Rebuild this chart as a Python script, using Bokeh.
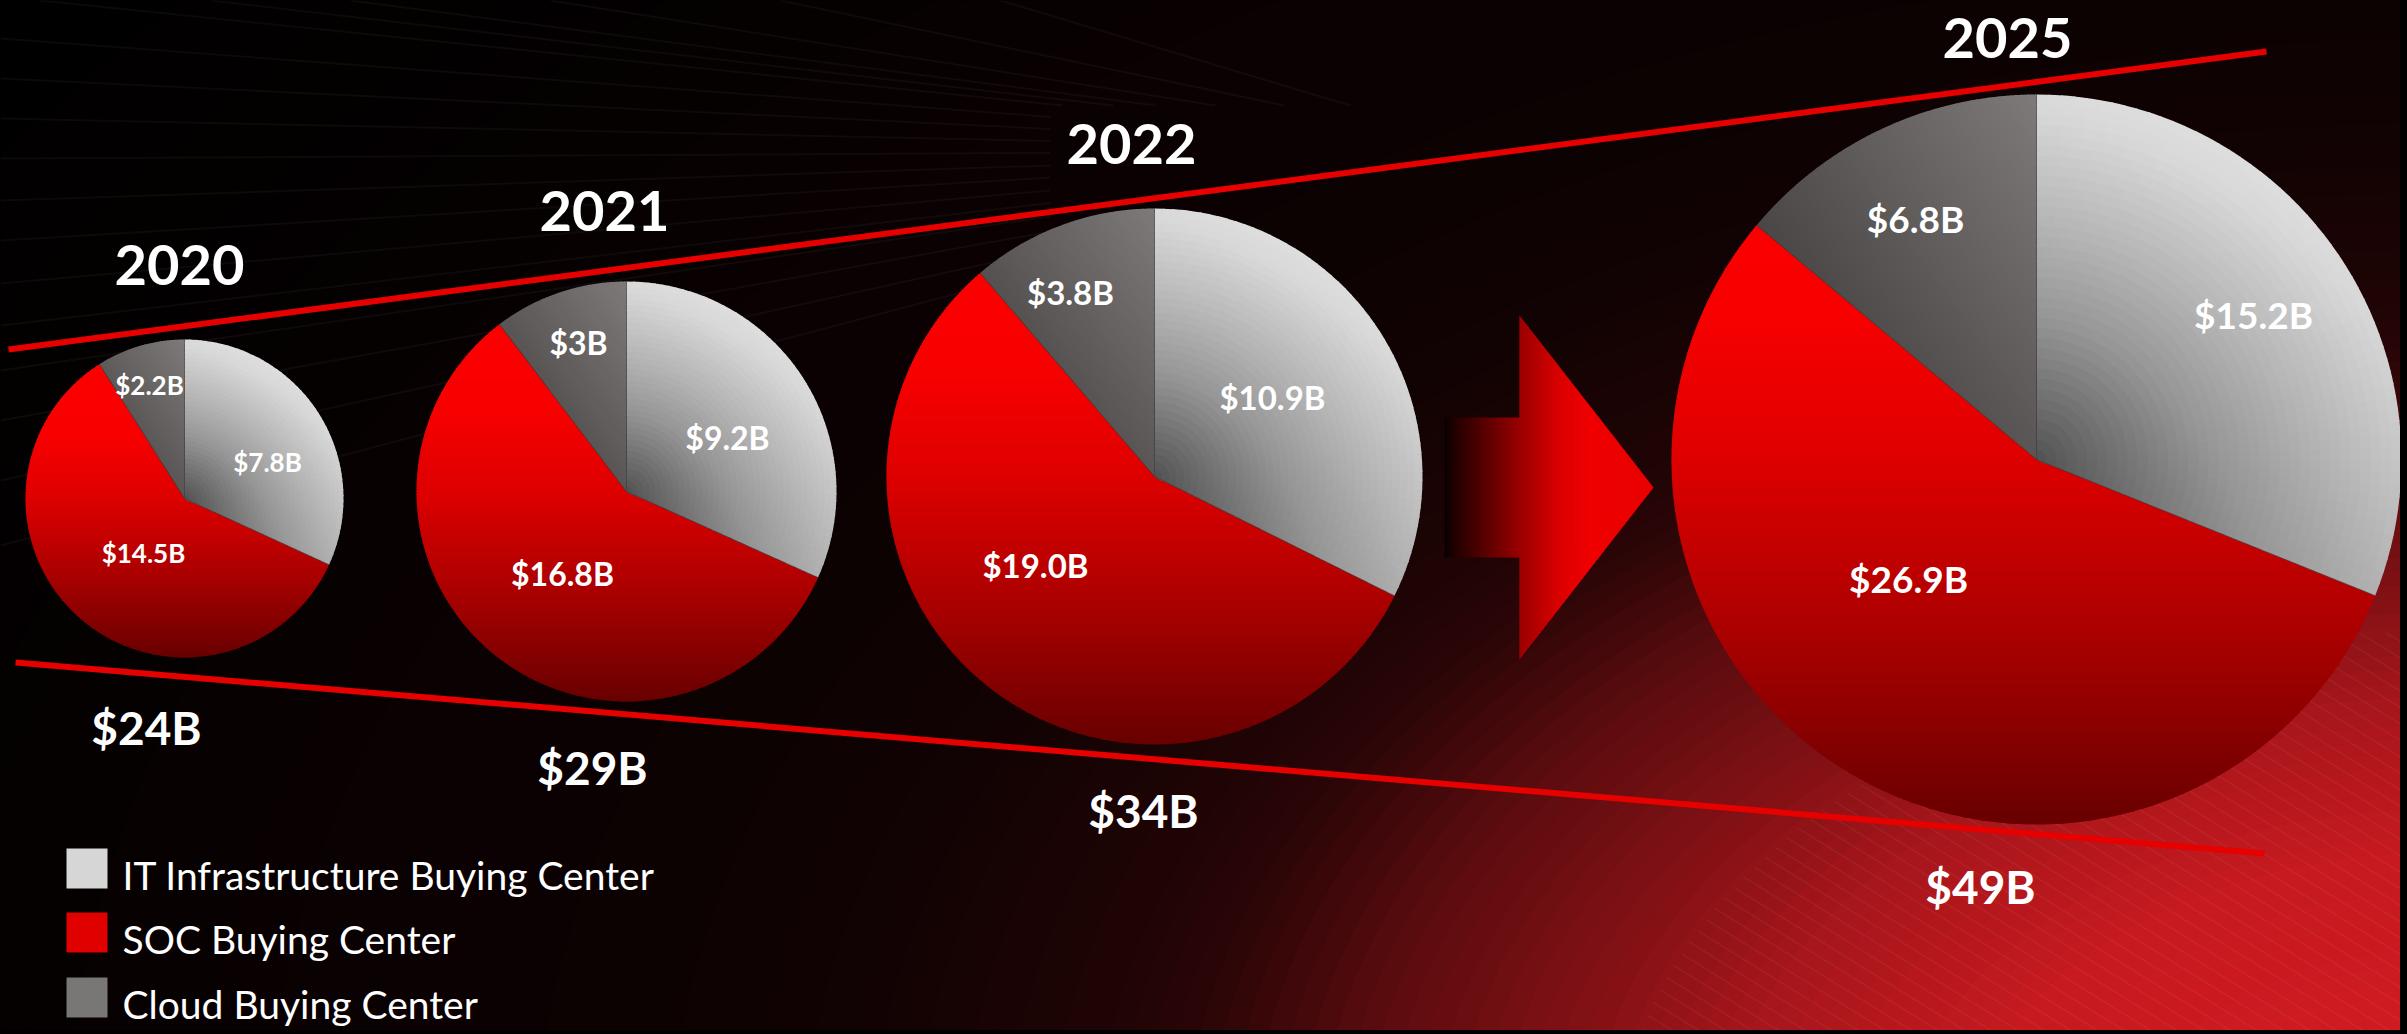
import numpy as np
from bokeh.plotting import figure
from bokeh.models import Range1d, ColumnDataSource
from bokeh.embed import file_html
from bokeh.resources import INLINE
from bokeh.core.properties import value

# ---------------- data ----------------
years = ["2020", "2021", "2022", "2025"]
totals = ["$24B", "$29B", "$34B", "$49B"]
segments = ["IT Infrastructure Buying Center", "SOC Buying Center", "Cloud Buying Center"]
it_infra = [7.8, 9.2, 10.9, 15.2]
soc = [14.5, 16.8, 19.0, 26.9]
cloud = [2.2, 3.0, 3.8, 6.8]
it_labels = ["$7.8B", "$9.2B", "$10.9B", "$15.2B"]
soc_labels = ["$14.5B", "$16.8B", "$19.0B", "$26.9B"]
cloud_labels = ["$2.2B", "$3B", "$3.8B", "$6.8B"]

# ---------------- layout (page pixel coords, y downward) ----------------
H = 1034
W_FIG, H_FIG = 2400, 1030


def fy(y):
    return H - y


pie_cx = [184, 626, 1154, 2036]
pie_cy = [498, 491, 476, 459]
pie_r = [159, 210, 268, 365]
label_size = [26, 32, 33, 37]
it_pos = [(267, 462), (727, 437), (1272, 397), (2253, 314)]
soc_pos = [(143, 553), (562, 573), (1035, 565), (1908, 578)]
cloud_pos = [(149, 385), (578, 342), (1070, 292), (1915, 218)]
year_pos = [(179, 285), (604, 231), (1131, 164), (2007, 58)]      # baselines
total_pos = [(146, 744), (592, 784), (1143, 827), (1980, 903)]    # baselines
FONT = value("Lato")
BASE_SHIFT = 0.37   # renderer puts alphabetic baseline ~0.37em low


def hexc(r, g, b):
    c = [int(round(min(255, max(0, v)))) for v in (r, g, b)]
    return "#%02x%02x%02x" % tuple(c)


def clip_dir(poly, n, lo, hi):
    """Clip polygon to band lo <= n.p <= hi (Sutherland-Hodgman)."""
    def proj(P):
        return n[0] * P[0] + n[1] * P[1]

    def inter(P, Q, val):
        sp, sq = proj(P), proj(Q)
        t = (val - sp) / (sq - sp)
        return (P[0] + t * (Q[0] - P[0]), P[1] + t * (Q[1] - P[1]))

    def half(pts, val, ge):
        out = []
        for i in range(len(pts)):
            P = pts[i - 1]
            Q = pts[i]
            pin = proj(P) >= val if ge else proj(P) <= val
            qin = proj(Q) >= val if ge else proj(Q) <= val
            if qin:
                if not pin:
                    out.append(inter(P, Q, val))
                out.append(Q)
            elif pin:
                out.append(inter(P, Q, val))
        return out

    pts = half(poly, lo, True)
    if len(pts) < 3:
        return []
    pts = half(pts, hi, False)
    return pts if len(pts) >= 3 else []


p = figure(width=W_FIG, height=H_FIG, x_range=Range1d(0, W_FIG), y_range=Range1d(H - H_FIG, H),
           output_backend="svg", toolbar_location=None, min_border=0,
           x_axis_type=None, y_axis_type=None)
p.grid.visible = False
p.outline_line_color = None
p.background_fill_color = "#000000"
p.border_fill_color = "#000000"

# ---------------- background: elliptical red glow bottom-right ----------------
ex, ey, ek = 2450, fy(1150), 1.6
ds = np.arange(1980, 0, -14)
bg_cols = []
for d in ds:
    r = np.interp(d, [0, 300, 460, 540, 690, 790, 850, 1000, 1150, 1350, 1600, 1980],
                  [214, 198, 165, 138, 90, 45, 32, 18, 12, 10, 4, 0])
    bg_cols.append(hexc(r, 0.13 * r, 0.16 * r))
p.ellipse(x=[ex] * len(ds), y=[ey] * len(ds), width=list(2 * ek * ds), height=list(2 * ds),
          fill_color=bg_cols, line_color=None)

# faint diagonal stripes inside the bright region
sx0, sx1, sy0, sy1 = [], [], [], []
u = np.array([1.0, -0.62]); u = u / np.linalg.norm(u)
nrm = np.array([-u[1], u[0]])
svals = np.linspace(-2500, 2500, 4000)
for c in np.arange(-1400, 1400, 14):
    base = np.array([ex, ey]) + c * nrm
    pts = base[None, :] + svals[:, None] * u[None, :]
    dd = np.sqrt(((pts[:, 0] - ex) / ek) ** 2 + (pts[:, 1] - ey) ** 2)
    ins = np.where(dd < 520)[0]
    if len(ins) < 2:
        continue
    a, b = pts[ins[0]], pts[ins[-1]]
    sx0.append(a[0]); sy0.append(a[1]); sx1.append(b[0]); sy1.append(b[1])
p.segment(x0=sx0, y0=sy0, x1=sx1, y1=sy1, line_color="#ffffff", line_alpha=0.05, line_width=1.5)

# faint perspective lines top-left
V = np.array([1500, fy(150)])
starts = [(0, y) for y in [38, 78, 118, 158, 200, 240, 283, 325, 370, 420, 480, 545]] + \
         [(x, 0) for x in [40, 210, 350, 550, 780, 1000]]
lx0, ly0, lx1, ly1 = [], [], [], []
for sx, sy in starts:
    s = np.array([sx, fy(sy)])
    e = s + 0.7 * (V - s)
    lx0.append(s[0]); ly0.append(s[1]); lx1.append(e[0]); ly1.append(e[1])
p.segment(x0=lx0, y0=ly0, x1=lx1, y1=ly1, line_color="#ffffff", line_alpha=0.04, line_width=2)

# ---------------- trend lines ----------------
p.segment(x0=[8, 15], y0=[fy(349), fy(662)], x1=[2266, 2264], y1=[fy(51), fy(853)],
          line_color="#e60000", line_width=6)

# ---------------- arrow ----------------
arrow = [(1444, 417), (1519, 417), (1519, 315), (1653, 487), (1519, 659), (1519, 557), (1444, 557)]
arrow = [(x, fy(y)) for x, y in arrow]
axs, ays, acs = [], [], []
xb = 1444
while xb < 1653:
    pc = clip_dir(arrow, (1.0, 0.0), xb - 0.4, xb + 3.4)
    if pc:
        xm = xb + 1.5
        r = np.interp(xm, [1444, 1450, 1475, 1519, 1560, 1590, 1653], [0, 25, 70, 154, 220, 240, 234])
        axs.append([q[0] for q in pc]); ays.append([q[1] for q in pc]); acs.append(hexc(r, 0, 0))
    xb += 3
p.patches(xs=axs, ys=ays, fill_color=acs, line_color=None)

# ---------------- pies ----------------
series = [it_infra, soc, cloud]


def red_col(t):
    r = np.interp(t, [0, 0.3, 0.5, 0.75, 1.0], [255, 248, 222, 168, 104])
    return hexc(r, 0, 0)


def it_bright(dx, dy):
    rr = np.hypot(dx, dy)
    t = 0.5 * dx + 0.866 * dy
    s = 0.5 * rr + 0.5 * np.clip(t, 0, 1)
    return np.interp(s, [0, 0.37, 0.6, 0.75, 0.9, 1.0], [84, 150, 180, 198, 216, 222])


CLOUD_N = (0.81, 0.58)


def cloud_col(s):
    b = 88 + 62 * s
    return hexc(b + 1, b - 2, b - 3)


rxs, rys, rcs = [], [], []
gxs, gys, gcs = [], [], []
cells = dict(x=[], y=[], ir=[], orad=[], sa=[], ea=[], c=[])
sep_x0, sep_y0, sep_x1, sep_y1 = [], [], [], []
for i in range(4):
    cx, cy, R = pie_cx[i], fy(pie_cy[i]), pie_r[i]
    vals = [s[i] for s in series]
    tot = sum(vals)
    cum = np.concatenate([[0.0], np.cumsum(vals)])
    th = np.pi / 2 - 2 * np.pi * cum / tot   # clockwise from 12 o'clock

    def slice_poly(k):
        a_s, a_e = th[k], th[k + 1]
        n = int(np.degrees(a_s - a_e) * 2) + 8
        angs = np.linspace(a_s, a_e, n)
        return [(cx, cy)] + [(cx + R * np.cos(a), cy + R * np.sin(a)) for a in angs]

    # SOC slice: vertical gradient bands
    poly = slice_poly(1)
    ytop = cy + R
    step = 3
    yb = ytop
    while yb > cy - R - step:
        pc = clip_dir(poly, (0.0, 1.0), yb - step - 0.4, yb + 0.4)
        if pc:
            t = (ytop - (yb - step / 2)) / (2 * R)
            rxs.append([q[0] for q in pc]); rys.append([q[1] for q in pc]); rcs.append(red_col(t))
        yb -= step

    # Cloud slice: linear gradient bands along CLOUD_N
    poly = slice_poly(2)
    c0 = CLOUD_N[0] * cx + CLOUD_N[1] * cy
    sv = -R
    while sv < R:
        pc = clip_dir(poly, CLOUD_N, c0 + sv - 0.4, c0 + sv + 3.4)
        if pc:
            gxs.append([q[0] for q in pc]); gys.append([q[1] for q in pc])
            gcs.append(cloud_col((sv + 1.5) / R))
        sv += 3

    # IT slice: fine polar cells (slightly overlapping to hide seams)
    a_hi, a_lo = th[0], th[1]
    nr = 36
    na = max(2, int(np.ceil(np.degrees(a_hi - a_lo) / 2)))
    for ir in range(nr):
        r0 = R * ir / nr
        r1 = R * (ir + 1) / nr
        rm = 0.5 * (r0 + r1)
        eps = 0.7 / max(rm, 1.0)
        for ja in range(na):
            a0 = a_lo + (a_hi - a_lo) * ja / na
            a1 = a_lo + (a_hi - a_lo) * (ja + 1) / na
            am = 0.5 * (a0 + a1)
            b = it_bright(rm * np.cos(am) / R, rm * np.sin(am) / R)
            cells["x"].append(cx); cells["y"].append(cy)
            cells["ir"].append(max(0.0, r0 - 0.3))
            cells["orad"].append(r1 + 0.6 if ir < nr - 1 else R)
            cells["sa"].append(a0 - eps if ja > 0 else a0)
            cells["ea"].append(a1 + eps if ja < na - 1 else a1)
            cells["c"].append(hexc(b, b, b))

    # thin slice separators
    for k in range(3):
        sep_x0.append(cx); sep_y0.append(cy)
        sep_x1.append(cx + R * np.cos(th[k])); sep_y1.append(cy + R * np.sin(th[k]))

p.patches(xs=rxs, ys=rys, fill_color=rcs, line_color=None)
p.patches(xs=gxs, ys=gys, fill_color=gcs, line_color=None)
p.annular_wedge(x="x", y="y", inner_radius="ir", outer_radius="orad", start_angle="sa", end_angle="ea",
                fill_color="c", line_color=None, source=ColumnDataSource(cells))
p.segment(x0=sep_x0, y0=sep_y0, x1=sep_x1, y1=sep_y1, line_color="#3c3c3c", line_alpha=0.6, line_width=1)

# ---------------- slice labels ----------------
for pos, labs in ((it_pos, it_labels), (soc_pos, soc_labels), (cloud_pos, cloud_labels)):
    for i in range(4):
        x, y = pos[i]
        fs = label_size[i]
        p.text(x=[x], y=[fy(y + 0.36 * fs - BASE_SHIFT * fs)], text=[labs[i]], text_font=FONT,
               text_font_style="bold", text_font_size="%dpx" % fs, text_color="#ffffff",
               text_align="center", text_baseline="alphabetic")

# ---------------- years and totals ----------------
p.text(x=[q[0] for q in year_pos], y=[fy(q[1] - BASE_SHIFT * 56) for q in year_pos], text=years,
       text_font=FONT, text_font_style="bold", text_font_size="56px", text_color="#ffffff",
       text_align="center", text_baseline="alphabetic")
p.text(x=[q[0] for q in total_pos], y=[fy(q[1] - BASE_SHIFT * 46) for q in total_pos], text=totals,
       text_font=FONT, text_font_style="bold", text_font_size="46px", text_color="#ffffff",
       text_align="center", text_baseline="alphabetic")

# ---------------- legend ----------------
leg_cols = ["#d6d6d6", "#e00000", "#797676"]
leg_sq_y = [868, 932, 997]
leg_base = [889, 953, 1018]
p.rect(x=[86.5] * 3, y=[fy(v) for v in leg_sq_y], width=41, height=40, fill_color=leg_cols, line_color=None)
p.text(x=[122] * 3, y=[fy(v - BASE_SHIFT * 39) for v in leg_base], text=segments, text_font=FONT,
       text_font_size="39px", text_color="#ffffff", text_align="left", text_baseline="alphabetic")

html = file_html(p, INLINE, title="Security buying centers")
html = html.replace("</head>", "<style>html,body{background:#000;}</style></head>", 1)
open("out.html", "w").write(html)
